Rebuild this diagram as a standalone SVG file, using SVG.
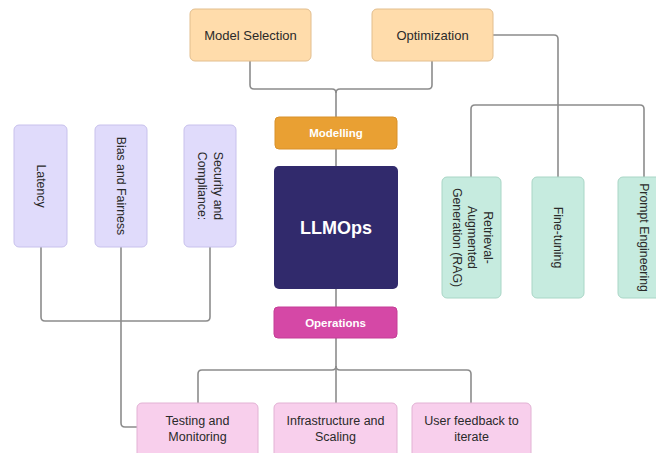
<svg xmlns="http://www.w3.org/2000/svg" width="656" height="453" viewBox="0 0 656 453">
  <style>
    .box { stroke-width: 1; }
    .peach { fill: #FFDCAB; stroke: #E2BE8E; }
    .lav { fill: #E0DBFB; stroke: #C8C1EC; }
    .mint { fill: #C6EBDF; stroke: #A9D6C6; }
    .pink { fill: #F8CFEC; stroke: #E2B2D4; }
    .lbl { font-family: "Liberation Sans", Arial, sans-serif; font-size: 12.5px; fill: #2a2a2a; text-anchor: middle; dominant-baseline: central; }
    .big { font-size: 13px; }
    .vlbl { font-family: "Liberation Sans", Arial, sans-serif; font-size: 12.3px; fill: #2a2a2a; text-anchor: middle; }
    .hdr { font-family: "Liberation Sans", Arial, sans-serif; font-weight: bold; font-size: 11.5px; fill: #ffffff; text-anchor: middle; dominant-baseline: central; }
    .title { font-size: 18px; }
    .conn path { fill: none; stroke: #8c8c8c; stroke-width: 1.6; }
  </style>

  <!-- connectors -->
  <g id="connectors" class="conn">
    <path d="M250,61 V85 Q250,89 254,89 H332 Q336,89 336,93 V117"/>
    <path d="M432,61 V85 Q432,89 428,89 H340 Q336,89 336,93"/>
    <path d="M336,149 V166"/>
    <path d="M336,289 V307"/>
    <path d="M336,338 V403"/>
    <path d="M336,366 Q336,370 332,370 H202 Q198,370 198,374 V403"/>
    <path d="M336,366 Q336,370 340,370 H467 Q471,370 471,374 V403"/>
    <path d="M493,35 H554 Q558,35 558,39 V177"/>
    <path d="M471,177 V109 Q471,105 475,105 H640 Q644,105 644,109 V177"/>
    <path d="M41,247 V317 Q41,321 45,321 H206 Q210,321 210,317 V247"/>
    <path d="M121,247 V423 Q121,427 125,427 H137"/>
  </g>

  <!-- modelling branch -->
  <g id="model-selection">
    <rect class="box peach" x="190" y="9" width="121" height="52" rx="5"/>
    <text class="lbl big" x="250.5" y="35">Model Selection</text>
  </g>
  <g id="optimization">
    <rect class="box peach" x="372" y="9" width="121" height="52" rx="5"/>
    <text class="lbl big" x="432.5" y="35">Optimization</text>
  </g>
  <g id="modelling">
    <rect x="275" y="117" width="122" height="32" rx="4" fill="#E9A033" stroke="#D9912A" stroke-width="1"/>
    <text class="hdr" x="336" y="133">Modelling</text>
  </g>

  <!-- core -->
  <g id="llmops">
    <rect x="274" y="166" width="124" height="123" rx="5" fill="#312A6C"/>
    <text class="hdr title" x="336" y="228">LLMOps</text>
  </g>

  <g id="operations">
    <rect x="274" y="307" width="123" height="31" rx="4" fill="#D548A6" stroke="#C53C96" stroke-width="1"/>
    <text class="hdr" x="335.5" y="322.5">Operations</text>
  </g>

  <!-- concerns (left) -->
  <g id="latency">
    <rect class="box lav" x="14" y="125" width="53" height="122" rx="5"/>
    <text class="vlbl" transform="translate(40.5,186) rotate(90)" y="4">Latency</text>
  </g>
  <g id="bias-fairness">
    <rect class="box lav" x="95" y="125" width="52" height="122" rx="5"/>
    <text class="vlbl" transform="translate(121,186) rotate(90)" y="4">Bias and Fairness</text>
  </g>
  <g id="security-compliance">
    <rect class="box lav" x="184" y="125" width="52" height="122" rx="5"/>
    <text class="vlbl" transform="translate(210,186) rotate(90)"><tspan x="0" y="-4">Security and</tspan><tspan x="0" y="12">Compliance:</tspan></text>
  </g>

  <!-- optimization techniques (right) -->
  <g id="rag">
    <rect class="box mint" x="442" y="177" width="59" height="121" rx="5"/>
    <text class="vlbl" transform="translate(471.5,237.5) rotate(90)"><tspan x="0" y="-12">Retrieval-</tspan><tspan x="0" y="3.5">Augmented</tspan><tspan x="0" y="19">Generation (RAG)</tspan></text>
  </g>
  <g id="fine-tuning">
    <rect class="box mint" x="532" y="177" width="52" height="121" rx="5"/>
    <text class="vlbl" transform="translate(558,237.5) rotate(90)" y="4">Fine-tuning</text>
  </g>
  <g id="prompt-engineering">
    <rect class="box mint" x="618" y="177" width="52" height="121" rx="5"/>
    <text class="vlbl" transform="translate(644,237.5) rotate(90)" y="4">Prompt Engineering</text>
  </g>

  <!-- operations tasks (bottom) -->
  <g id="testing-monitoring">
    <rect class="box pink" x="137" y="403" width="121" height="60" rx="5"/>
    <text class="lbl" x="197.5" y="421">Testing and</text>
    <text class="lbl" x="197.5" y="437">Monitoring</text>
  </g>
  <g id="infrastructure-scaling">
    <rect class="box pink" x="274" y="403" width="123" height="60" rx="5"/>
    <text class="lbl" x="335.5" y="421">Infrastructure and</text>
    <text class="lbl" x="335.5" y="437">Scaling</text>
  </g>
  <g id="user-feedback">
    <rect class="box pink" x="412" y="403" width="119" height="60" rx="5"/>
    <text class="lbl" x="471.5" y="421">User feedback to</text>
    <text class="lbl" x="471.5" y="437">iterate</text>
  </g>
</svg>
